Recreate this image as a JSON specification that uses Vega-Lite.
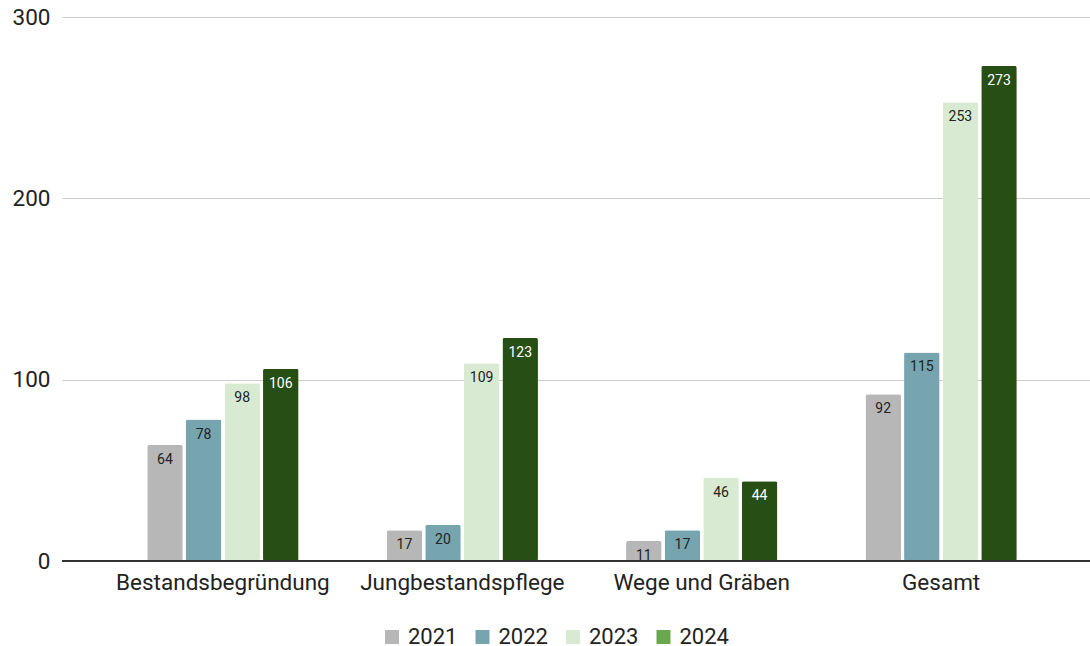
{
  "$schema": "https://vega.github.io/schema/vega-lite/v6.json",
  "width": 1040,
  "height": 544,
  "autosize": "none",
  "padding": {"left": 62, "top": 17, "right": -12, "bottom": 85},
  "background": "white",
  "config": {
    "view": {"stroke": null},
    "font": "Roboto",
    "axis": {"labelFont": "Roboto", "labelColor": "#222222", "labelFontSize": 22.5, "titleFont": "Roboto", "labelLimit": 400},
    "legend": {"labelFont": "Roboto", "labelColor": "#222222", "labelFontSize": 22, "labelLimit": 200}
  },
  "data": {
    "values": [
      {"kategorie": "Bestandsbegründung", "jahr": "2021", "wert": 64},
      {"kategorie": "Bestandsbegründung", "jahr": "2022", "wert": 78},
      {"kategorie": "Bestandsbegründung", "jahr": "2023", "wert": 98},
      {"kategorie": "Bestandsbegründung", "jahr": "2024", "wert": 106},
      {"kategorie": "Jungbestandspflege", "jahr": "2021", "wert": 17},
      {"kategorie": "Jungbestandspflege", "jahr": "2022", "wert": 20},
      {"kategorie": "Jungbestandspflege", "jahr": "2023", "wert": 109},
      {"kategorie": "Jungbestandspflege", "jahr": "2024", "wert": 123},
      {"kategorie": "Wege und Gräben", "jahr": "2021", "wert": 11},
      {"kategorie": "Wege und Gräben", "jahr": "2022", "wert": 17},
      {"kategorie": "Wege und Gräben", "jahr": "2023", "wert": 46},
      {"kategorie": "Wege und Gräben", "jahr": "2024", "wert": 44},
      {"kategorie": "Gesamt", "jahr": "2021", "wert": 92},
      {"kategorie": "Gesamt", "jahr": "2022", "wert": 115},
      {"kategorie": "Gesamt", "jahr": "2023", "wert": 253},
      {"kategorie": "Gesamt", "jahr": "2024", "wert": 273}
    ]
  },
  "encoding": {
    "x": {
      "field": "kategorie", "type": "nominal", "sort": null, "title": null,
      "scale": {"paddingInner": 0.368, "paddingOuter": 0.356},
      "axis": {"labelAngle": 0, "ticks": false, "domain": false, "labelPadding": 10}
    },
    "xOffset": {"field": "jahr", "type": "nominal", "scale": {"paddingInner": 0.08}},
    "y": {
      "field": "wert", "type": "quantitative", "title": null,
      "scale": {"domain": [0, 300]},
      "axis": {"values": [0, 100, 200, 300], "ticks": false, "domain": false, "labelPadding": 12, "gridColor": "#cccccc", "gridWidth": 1}
    }
  },
  "layer": [
    {
      "mark": {"type": "bar", "cornerRadius": 2},
      "encoding": {
        "fill": {
          "condition": {"test": "datum.jahr === '2024'", "value": "#274e13"},
          "field": "jahr", "type": "nominal",
          "scale": {"domain": ["2021", "2022", "2023", "2024"], "range": ["#b7b7b7", "#76a5af", "#d9ead3", "#6aa84f"]},
          "legend": {"title": null, "orient": "none", "direction": "horizontal", "legendX": 319, "legendY": 609, "symbolType": "square", "symbolSize": 196, "symbolStrokeWidth": 0, "labelOffset": 5, "columnPadding": 13.5}
        }
      }
    },
    {
      "mark": {"type": "rule", "color": "#333333", "strokeWidth": 1},
      "encoding": {"y": {"datum": 0}, "x": null, "xOffset": null}
    },
    {
      "mark": {"type": "text", "baseline": "top", "dy": 8, "fontSize": 14, "font": "Roboto"},
      "encoding": {
        "text": {"field": "wert", "type": "quantitative"},
        "color": {
          "condition": {"test": "datum.jahr === '2024'", "value": "#ffffff"},
          "value": "#222222"
        }
      }
    }
  ]
}
